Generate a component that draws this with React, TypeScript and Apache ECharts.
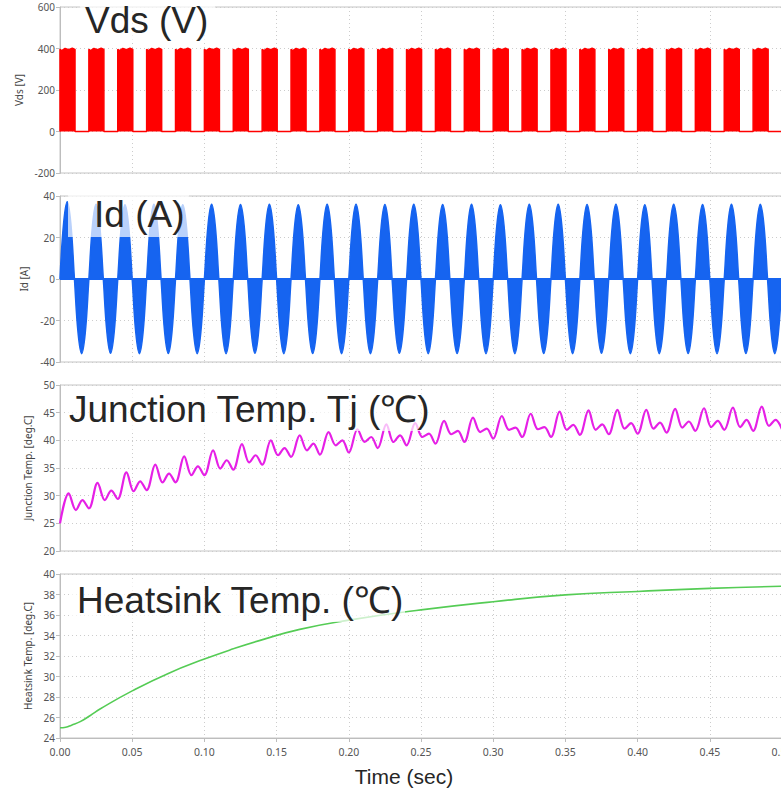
import React, { useEffect, useRef } from "react";
import * as echarts from "echarts";

// ---- data ----
// start time of each 50 Hz output cycle (s)
const cycleStarts = [
  0.0, 0.02, 0.04, 0.06, 0.08, 0.1, 0.12, 0.14, 0.16, 0.18, 0.2, 0.22, 0.24,
  0.26, 0.28, 0.3, 0.32, 0.34, 0.36, 0.38, 0.4, 0.42, 0.44, 0.46, 0.48,
];
const timeEnd = 0.5;

// Vds: PWM burst during the first half of each cycle (top envelope of the burst)
const vdsTopOffsets = [0, 0.0012, 0.0035, 0.006, 0.0085, 0.0104];
const vdsTopValues = [396, 390, 400, 394, 401, 396];

// Id: envelope peaks of each half cycle (A)
const idPosPeaks = [
  37.2, 36.0, 35.8, 36.0, 35.8, 36.0, 35.9, 36.0, 35.8, 36.0, 36.0, 35.9, 36.0,
  35.9, 36.0, 35.8, 36.0, 36.0, 35.9, 36.0, 35.8, 36.0, 35.9, 36.0, 36.0,
];
const idNegPeaks = [
  -36.0, -35.8, -36.0, -35.9, -36.0, -36.0, -35.8, -36.0, -35.9, -36.0, -36.0,
  -35.8, -36.0, -35.9, -36.0, -36.0, -35.9, -36.0, -35.8, -36.0, -36.0, -35.9,
  -36.0, -35.9, -36.0,
];
// envelope within a half cycle: time offsets and level relative to that half's peak
const idHalfOffsets = [0, 0.0025, 0.005, 0.0075];
const idHalfLevels = [0, 0.72, 1, 0.72];
const idHalfPeriod = 0.01;

// Junction temperature: per cycle, value at cycle start, main peak, dip, second hump
const tjPhase = [0, 0.006, 0.011, 0.0155];
const tjStart = [
  25.0, 27.7, 29.4, 31.0, 32.4, 33.7, 34.7, 35.6, 37.0, 37.4, 37.8, 38.6, 39.1,
  39.4, 39.7, 40.3, 40.6, 40.6, 41.0, 41.1, 41.2, 41.4, 41.7, 41.9, 41.7,
];
const tjPeak = [
  30.4, 32.3, 34.2, 35.6, 37.1, 38.2, 39.3, 40.0, 40.9, 41.5, 42.0, 42.9, 43.1,
  43.5, 44.1, 44.4, 44.8, 45.2, 45.4, 45.5, 45.5, 45.7, 45.8, 45.9, 46.1,
];
const tjDip = [
  27.4, 29.2, 30.8, 32.4, 33.7, 34.9, 36.0, 37.3, 38.2, 39.1, 39.7, 39.7, 40.6,
  41.1, 41.5, 41.9, 42.0, 41.9, 41.9, 42.1, 42.1, 42.3, 42.4, 42.4, 42.6,
];
const tjHump = [
  29.2, 30.9, 32.6, 34.0, 35.3, 36.4, 37.3, 38.6, 39.4, 40.0, 40.6, 40.9, 41.2,
  41.7, 42.1, 42.3, 42.4, 42.8, 42.9, 43.1, 43.2, 43.4, 43.5, 43.7, 43.7,
];
const tjEnd = 42.0;

// Heatsink temperature
const hsTimes = [
  0, 0.004, 0.008, 0.014, 0.021, 0.028, 0.05, 0.075, 0.1, 0.12, 0.138, 0.166,
  0.2, 0.25, 0.3, 0.35, 0.4, 0.45, 0.5,
];
const hsValues = [
  25.0, 25.05, 25.25, 25.6, 26.2, 26.85, 28.6, 30.3, 31.7, 32.7, 33.5, 34.6,
  35.5, 36.5, 37.3, 37.96, 38.3, 38.6, 38.8,
];

// axis ranges / ticks
const yRanges = [
  { min: -200, max: 600, interval: 200, name: "Vds [V]" },
  { min: -40, max: 40, interval: 20, name: "Id [A]" },
  { min: 20, max: 50, interval: 5, name: "Junction Temp. [deg.C]" },
  { min: 24, max: 40, interval: 2, name: "Heatsink Temp. [deg.C]" },
];
const titles = ["Vds (V)", "Id (A)", "Junction Temp. Tj (\u2103)", "Heatsink Temp. (\u2103)"];

function buildVds() {
  const pts: number[][] = [];
  cycleStarts.forEach((c) => {
    pts.push([c, 0]);
    vdsTopOffsets.forEach((o, i) => pts.push([c + o, vdsTopValues[i]]));
    pts.push([c + vdsTopOffsets[vdsTopOffsets.length - 1], 0]);
  });
  pts.push([timeEnd, 0]);
  return pts;
}
function buildId() {
  const pts: number[][] = [];
  cycleStarts.forEach((c, k) => {
    [idPosPeaks[k], idNegPeaks[k]].forEach((peak, h) => {
      idHalfOffsets.forEach((o, i) =>
        pts.push([c + h * idHalfPeriod + o, peak * idHalfLevels[i]])
      );
    });
  });
  pts.push([timeEnd, 0]);
  return pts;
}
function buildTj() {
  const pts: number[][] = [];
  cycleStarts.forEach((c, k) => {
    const v = [tjStart[k], tjPeak[k], tjDip[k], tjHump[k]];
    tjPhase.forEach((o, i) => pts.push([c + o, v[i]]));
  });
  pts.push([timeEnd, tjEnd]);
  return pts;
}

const FONT = "'Liberation Sans', Arial, sans-serif";
const AXFONT = "'Noto Sans', 'DejaVu Sans', sans-serif";

const gridTops = [7, 196, 385, 574];
const gridHeights = [166, 166, 166, 164];

export default function App() {
  const ref = useRef<HTMLDivElement>(null);
  useEffect(() => {
    if (!ref.current) return;
    const chart = echarts.init(ref.current, undefined, { renderer: "svg" });
    const grids = gridTops.map((t, i) => ({
      left: 60,
      width: 722,
      top: t,
      height: gridHeights[i],
      show: true,
      borderColor: "#c4c4c4",
      borderWidth: 1,
      containLabel: false,
      outerBoundsMode: "none",
    }));
    const xAxes = gridTops.map((_, i) => ({
      type: "value",
      gridIndex: i,
      min: 0,
      max: timeEnd,
      interval: 0.05,
      axisLine: { show: i === 3, lineStyle: { color: "#bdbdbd" } },
      axisTick: { show: i === 3, length: 4, lineStyle: { color: "#bdbdbd" } },
      axisLabel: {
        show: i === 3,
        formatter: (v: number) => v.toFixed(2),
        color: "#555",
        fontSize: 10.5,
        margin: 8,
        fontFamily: AXFONT,
        hideOverlap: false,
      },
      splitLine: { show: true, lineStyle: { color: "#cccccc", type: [1, 3], width: 1 } },
    }));
    const yAxes = yRanges.map((r, i) => ({
      type: "value",
      gridIndex: i,
      min: r.min,
      max: r.max,
      interval: r.interval,
      name: r.name,
      nameLocation: "middle",
      nameGap: 25,
      nameRotate: 90,
      nameTextStyle: { color: "#444", fontSize: 10, fontFamily: AXFONT },
      axisLine: { show: true, lineStyle: { color: "#bdbdbd" } },
      axisTick: { show: true, length: 4, lineStyle: { color: "#bdbdbd" } },
      axisLabel: { color: "#555", fontSize: 10, margin: 5, fontFamily: AXFONT },
      splitLine: { show: true, lineStyle: { color: "#cccccc", type: [1, 3], width: 1 } },
    }));

    const titleBoxes = [
      { x: 80, y: 2, w: 135, h: 40 },
      { x: 68, y: 192, w: 121, h: 45 },
      { x: 65, y: 390, w: 368, h: 41 },
      { x: 72, y: 580, w: 333, h: 42 },
    ];
    const titlePos = [
      { x: 85, y: 20.5 },
      { x: 94, y: 214.5 },
      { x: 69, y: 409 },
      { x: 77, y: 600 },
    ];
    const graphics: any[] = [];
    titleBoxes.forEach((b) =>
      graphics.push({
        type: "rect",
        z: 100,
        silent: true,
        shape: { x: b.x, y: b.y, width: b.w, height: b.h },
        style: { fill: "rgba(255,255,255,0.7)" },
      })
    );
    titles.forEach((t, i) =>
      graphics.push({
        type: "text",
        z: 101,
        silent: true,
        x: titlePos[i].x,
        y: titlePos[i].y,
        style: {
          text: t,
          fill: "#262626",
          font: `37px ${FONT}`,
          textAlign: "left",
          textVerticalAlign: "middle",
        },
      })
    );
    graphics.push({
      type: "text",
      z: 101,
      silent: true,
      x: 404,
      y: 776,
      style: {
        text: "Time (sec)",
        fill: "#262626",
        font: `21px ${FONT}`,
        textAlign: "center",
        textVerticalAlign: "middle",
      },
    });

    chart.setOption({
      animation: false,
      backgroundColor: "#ffffff",
      grid: grids,
      xAxis: xAxes,
      yAxis: yAxes,
      graphic: graphics,
      series: [
        {
          type: "line",
          xAxisIndex: 0,
          yAxisIndex: 0,
          data: buildVds(),
          showSymbol: false,
          lineStyle: { color: "#ff0000", width: 1.5 },
          areaStyle: { color: "#ff0000", opacity: 1 },
        },
        {
          type: "line",
          xAxisIndex: 1,
          yAxisIndex: 1,
          data: buildId(),
          showSymbol: false,
          smooth: 0.4,
          lineStyle: { color: "#1664f0", width: 1.5 },
          areaStyle: { color: "#1664f0", opacity: 1 },
          markLine: {
            silent: true,
            symbol: "none",
            label: { show: false },
            lineStyle: { color: "#1664f0", width: 2, type: "solid" },
            data: [{ yAxis: 0 }],
          },
        },
        {
          type: "line",
          xAxisIndex: 2,
          yAxisIndex: 2,
          data: buildTj(),
          showSymbol: false,
          smooth: 0.35,
          lineStyle: { color: "#e620e6", width: 2.2 },
        },
        {
          type: "line",
          xAxisIndex: 3,
          yAxisIndex: 3,
          data: hsTimes.map((t, i) => [t, hsValues[i]]),
          showSymbol: false,
          smooth: 0.5,
          lineStyle: { color: "#55cc55", width: 1.6 },
        },
      ],
    });
    return () => chart.dispose();
  }, []);
  return (
    <div
      ref={ref}
      style={{ position: "fixed", left: 0, top: 0, width: 781, height: 793, background: "#fff" }}
    />
  );
}
